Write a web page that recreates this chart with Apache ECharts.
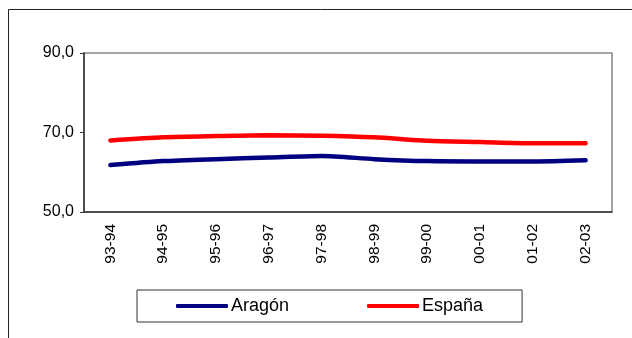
<!DOCTYPE html>
<html>
<head>
<meta charset="utf-8">
<script src="https://cdn.jsdelivr.net/npm/echarts@6/dist/echarts.min.js"></script>
<style>
html,body{margin:0;padding:0;background:#fff;}
#c{width:632px;height:338px;}
</style>
</head>
<body>
<div id="c"></div>
<script>
const categories = ["93-94","94-95","95-96","96-97","97-98","98-99","99-00","00-01","01-02","02-03"];
const aragon = [61.8, 62.8, 63.3, 63.7, 64.1, 63.3, 62.8, 62.7, 62.7, 63.0];
const espana = [68.0, 68.8, 69.1, 69.3, 69.2, 68.8, 67.9, 67.6, 67.3, 67.3];
const yTicks = [50, 70, 90];

const FONT = '"Liberation Sans", Arial, sans-serif';
const chart = echarts.init(document.getElementById('c'), null, {renderer: 'canvas'});
chart.setOption({
  animation: false,
  backgroundColor: '#fff',
  textStyle: {fontFamily: FONT},
  graphic: [{
    type: 'rect',
    shape: {x: 8.5, y: 9.5, width: 700, height: 400},
    style: {fill: 'none', stroke: '#222', lineWidth: 1},
    silent: true
  }],
  grid: {
    left: 84, right: 20, top: 53, bottom: 126,
    show: true, borderColor: '#888', borderWidth: 1.5, backgroundColor: 'transparent'
  },
  legend: {
    left: 137, top: 290,
    padding: [7, 39, 7, 39],
    width: 308,
    borderColor: '#333', borderWidth: 1,
    itemWidth: 52, itemHeight: 4, itemGap: 78,
    icon: 'roundRect',
    textStyle: {fontFamily: FONT, fontSize: 18, color: '#000', padding: [0, 0, 0, -2]},
    data: ['Aragón', 'España']
  },
  xAxis: {
    type: 'category',
    data: categories,
    boundaryGap: true,
    axisLine: {lineStyle: {color: '#333', width: 1.5}},
    axisTick: {show: false},
    axisLabel: {rotate: 90, margin: 12, fontSize: 15.5, color: '#000', fontFamily: FONT, interval: 0}
  },
  yAxis: {
    type: 'value',
    min: yTicks[0], max: yTicks[yTicks.length - 1], interval: 20,
    axisLine: {show: true, lineStyle: {color: '#333', width: 1.5}},
    axisTick: {show: true, length: 4, lineStyle: {color: '#333', width: 1}},
    splitLine: {show: false},
    axisLabel: {
      margin: 10, fontSize: 16, color: '#000', fontFamily: FONT,
      formatter: v => v.toFixed(1).replace('.', ',')
    }
  },
  series: [
    {
      name: 'Aragón', type: 'line', data: aragon, smooth: 0.25,
      symbol: 'none', itemStyle: {color: '#000080'},
      lineStyle: {color: '#000080', width: 4.5, cap: 'round'}
    },
    {
      name: 'España', type: 'line', data: espana, smooth: 0.25,
      symbol: 'none', itemStyle: {color: '#ff0000'},
      lineStyle: {color: '#ff0000', width: 4.5, cap: 'round'}
    }
  ]
});
</script>
</body>
</html>
